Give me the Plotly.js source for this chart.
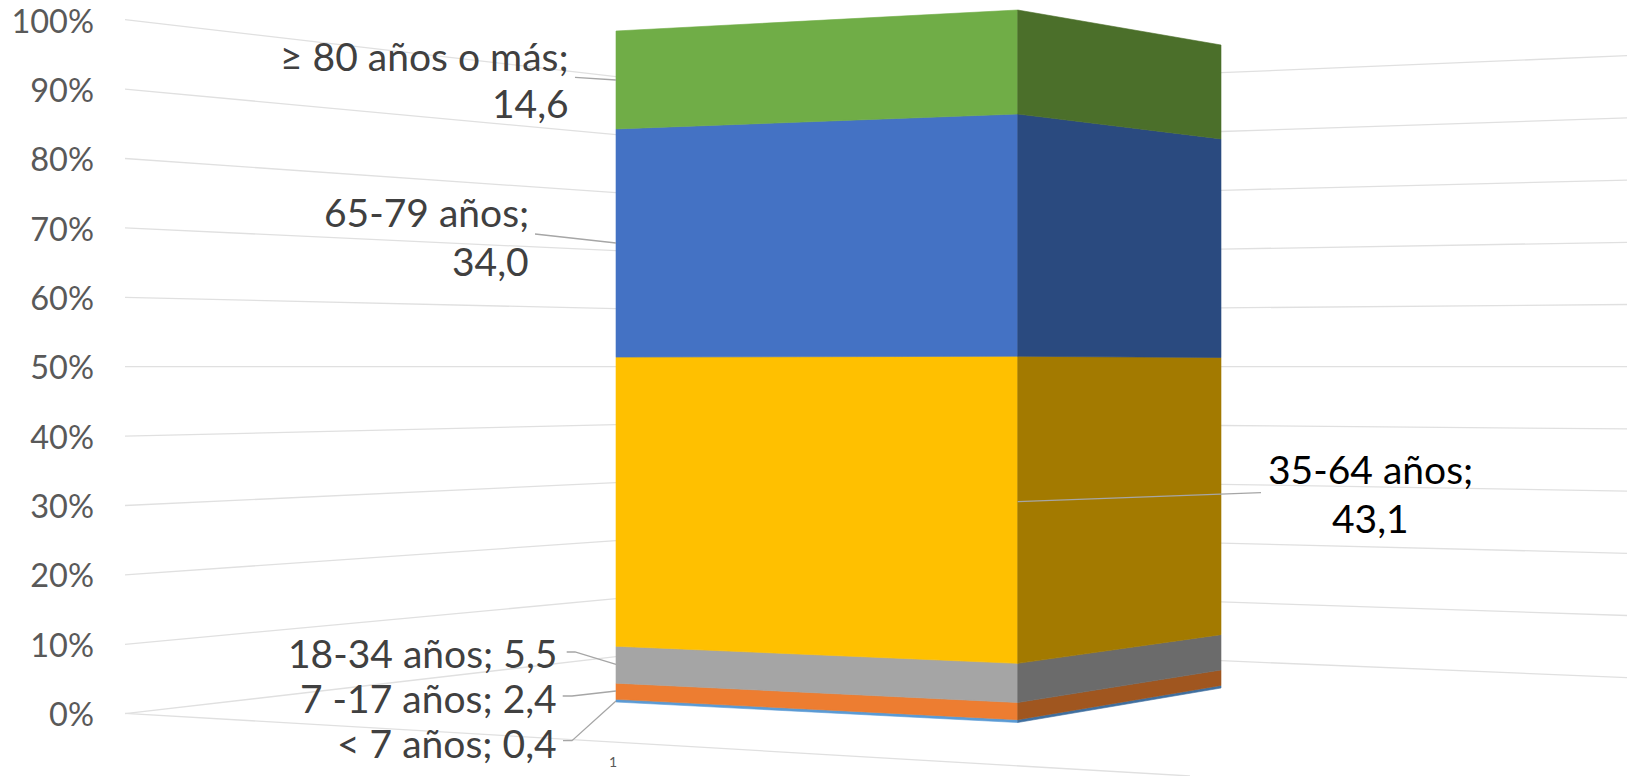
<!DOCTYPE html>
<html>
<head>
<meta charset="utf-8">
<script src="https://cdn.plot.ly/plotly-3.0.1.min.js"></script>
<style>html,body{margin:0;padding:0;background:#fff}#chart{width:1627px;height:776px}</style>
</head>
<body>
<div id="chart"></div>
<script>
// ---- data ----
const categories = ['< 7 años', '7 -17 años', '18-34 años', '35-64 años', '65-79 años', '≥ 80 años o más'];
const values = [0.4, 2.4, 5.5, 43.1, 34.0, 14.6];
const tickValues = [0, 10, 20, 30, 40, 50, 60, 70, 80, 90, 100];
const tickLabels = ['0%', '10%', '20%', '30%', '40%', '50%', '60%', '70%', '80%', '90%', '100%'];
const categoryTick = '1';

// ---- styles ----
const frontColors = ['#5B9BD5', '#ED7D31', '#A5A5A5', '#FFC000', '#4472C4', '#70AD47'];
const sideColors = ['#3F6F9F', '#A0561F', '#6B6B6B', '#A37A00', '#2A4A7F', '#4B6F2A'];
const gridColor = '#e0e0e0', leaderColor = '#a6a6a6';
const labelFont = 'Lato, "Open Sans", sans-serif';

// ---- 3D view: page pixel position of each vertical edge and wall ----
const W = 1627, H = 776;
const zeroPx = 714.5, pxPerUnit = 6.93;             // y axis: labels sit on this scale
const toY = px => (zeroPx - px) / pxPerUnit;
const total = values.reduce((a, b) => a + b, 0);
const edge = (x, bottom, top) => ({x, at: v => toY(bottom + (top - bottom) * v / total)});
const leftEdge = edge(616, 702, 31), midEdge = edge(1017.7, 722.5, 10), rightEdge = edge(1221, 688, 45);
const wall = (x, pxAtFifty, slope) => ({x, at: v => toY(pxAtFifty + (50 - v) * slope - 0)});
const wallA = wall(125, 366.7, 6.94), wallB = wall(616, 366.7, 5.8);
const wallC = wall(1221, 366.7, 5.88), wallD = wall(1627, 366.7, 6.22);

const traces = [];
const line = (x, y, color, width) => traces.push({x, y, mode: 'lines', type: 'scatter', hoverinfo: 'skip',
  line: {color, width}, showlegend: false});

// gridlines on both walls and the floor edge
tickValues.forEach(v => {
  line([wallA.x, wallB.x], [wallA.at(v), wallB.at(v)], gridColor, 1.3);
  line([wallC.x, wallD.x], [wallC.at(v), wallD.at(v)], gridColor, 1.3);
});
line([125, 1190], [toY(713.3), toY(776)], gridColor, 1.3);

// stacked box faces
let base = 0;
values.forEach((val, i) => {
  const top = base + val;
  const face = (a, b, color) => traces.push({
    x: [a.x, b.x, b.x, a.x, a.x], y: [a.at(base), b.at(base), b.at(top), a.at(top), a.at(base)],
    mode: 'lines', type: 'scatter', fill: 'toself', fillcolor: color, hoverinfo: 'skip',
    line: {color, width: 0.6}, showlegend: false, name: categories[i]});
  face(leftEdge, midEdge, frontColors[i]);
  face(midEdge, rightEdge, sideColors[i]);
  base = top;
});

// leader lines from label to box [page px x, page px y]
const leaders = [
  [[563, 740.7], [572, 740.7], [616, 701]],
  [[562.7, 696], [572, 696], [616, 691]],
  [[566.7, 652], [575, 652], [616, 664.3]],
  [[1261, 492.7], [1017.7, 501.7]],
  [[535, 234], [616, 243]],
  [[575, 77.3], [616, 80]]
];
leaders.forEach(p => line(p.map(q => q[0]), p.map(q => toY(q[1])), leaderColor, 1.3));

// labels: [category index, right edge px, first-line centre px, second-line centre px | null, colour]
const fmt = v => v.toFixed(1).replace('.', ',');
const placements = [
  [0, 558, 743, null, '#404040'],
  [1, 558, 698, null, '#404040'],
  [2, 558, 653, null, '#404040'],
  [4, 530, 212, 261, '#404040'],
  [5, 570, 56, 103, '#404040']
];
const ann = (text, x, ypx, color, xanchor) => ({text, x, y: toY(ypx), xref: 'x', yref: 'y', xanchor, yanchor: 'middle',
  showarrow: false, borderpad: 0, font: {family: labelFont, size: 39, color}});
const annotations = [];
placements.forEach(([i, right, y1, y2, color]) => {
  if (y2 === null) annotations.push(ann(categories[i] + '; ' + fmt(values[i]), right, y1, color, 'right'));
  else {
    annotations.push(ann(categories[i] + ';', right, y1, color, 'right'));
    annotations.push(ann(fmt(values[i]), right, y2, color, 'right'));
  }
});
annotations.push(ann(categories[3] + ';', 1370, 469, '#000000', 'center'));
annotations.push(ann(fmt(values[3]), 1370, 518, '#000000', 'center'));
annotations.push({text: categoryTick, x: 613, y: toY(761), xref: 'x', yref: 'y', showarrow: false,
  font: {family: labelFont, size: 14, color: '#595959'}});

const layout = {
  width: W, height: H,
  margin: {l: 125, r: 0, t: 0, b: 0},
  paper_bgcolor: '#ffffff', plot_bgcolor: '#ffffff',
  showlegend: false,
  xaxis: {range: [125, W], visible: false, fixedrange: true},
  yaxis: {
    range: [toY(H), toY(0)], tickmode: 'array', tickvals: tickValues, ticktext: tickLabels,
    showgrid: false, zeroline: false, showline: false, ticks: '', ticklabelstandoff: 30,
    tickfont: {family: labelFont, size: 32.5, color: '#595959'}, fixedrange: true
  },
  annotations
};
Plotly.newPlot('chart', traces, layout, {displayModeBar: false, staticPlot: true});
</script>
</body>
</html>
